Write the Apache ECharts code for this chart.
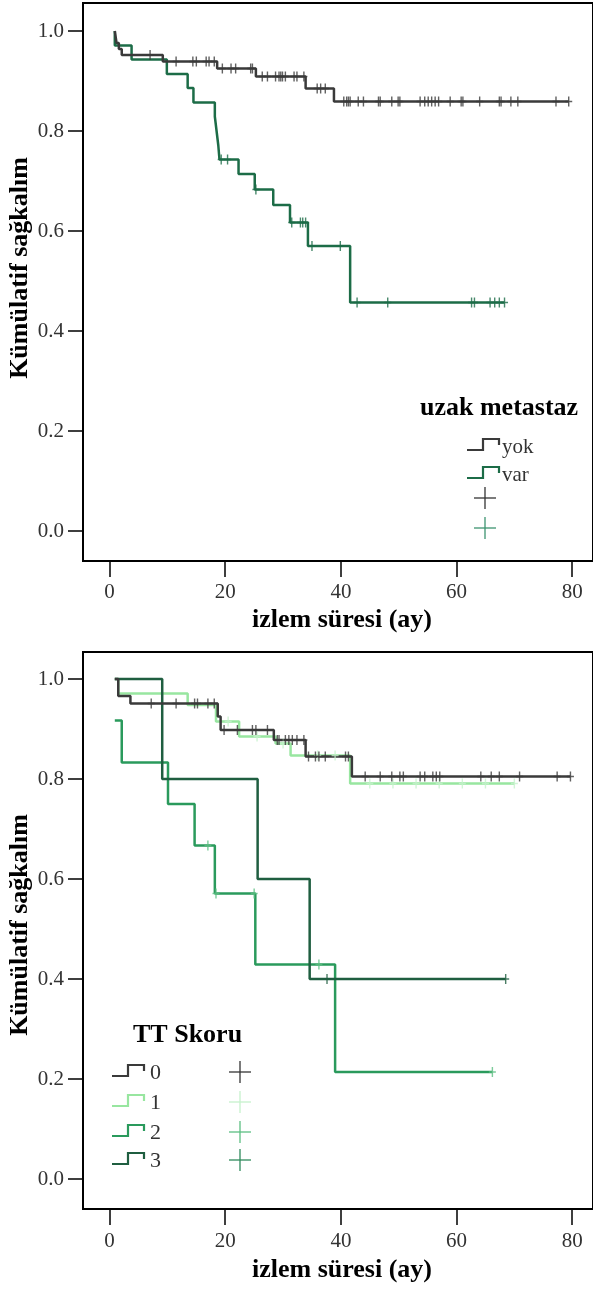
<!DOCTYPE html>
<html><head><meta charset="utf-8">
<style>html,body{margin:0;padding:0;background:#fff}#c{width:593px;height:1289px}</style>
<script src="https://cdn.jsdelivr.net/npm/echarts@6.0.0/dist/echarts.min.js"></script>
</head><body><div id="c"></div>
<script>
// ---------- data: top chart (uzak metastaz) ----------
const xTicks = [0, 20, 40, 60, 80];
const yTicks = [0, 0.2, 0.4, 0.6, 0.8, 1.0];

const yokTimes = [0.9, 1.2, 1.6, 2.1, 9.2, 18.6, 25.3, 33.9, 38.8, 79.4];
const yokSurv  = [1.0, 0.976, 0.964, 0.952, 0.939, 0.925, 0.909, 0.885, 0.859, 0.859];
const yokCensor = [7.0, 11.5, 14.4, 15.0, 16.7, 17.2, 18.1, 19.5, 21.0, 21.8, 24.4, 24.7, 26.4, 27.3, 28.7, 29.3, 29.6, 29.9, 30.4, 31.9, 32.4, 33.6, 35.9, 36.5, 37.3, 40.5, 41.0, 41.3, 41.6, 43.0, 43.9, 46.5, 46.8, 48.8, 49.9, 50.2, 53.7, 54.5, 55.1, 55.7, 56.3, 56.9, 58.9, 60.8, 61.1, 64.0, 67.4, 67.7, 69.4, 70.6, 77.2, 79.4];

const varTimes = [0.9, 0.9, 3.8, 9.9, 13.5, 14.5, 18.2, 18.5, 18.8, 19.0, 22.3, 25.1, 28.3, 31.2, 34.3, 41.6, 68.3];
const varSurv  = [1.0, 0.971, 0.943, 0.914, 0.886, 0.857, 0.829, 0.80, 0.771, 0.743, 0.714, 0.683, 0.652, 0.617, 0.570, 0.457, 0.457];
const varCensor = [19.3, 20.4, 25.3, 31.5, 33.0, 33.4, 33.9, 35.0, 39.9, 42.8, 48.1, 62.6, 63.1, 65.8, 66.6, 67.4, 68.3];

// ---------- data: bottom chart (TT Skoru) ----------
const g0Times = [0.9, 1.5, 3.6, 18.7, 19.2, 28.4, 33.9, 41.9, 79.7];
const g0Surv  = [1.0, 0.966, 0.951, 0.925, 0.898, 0.878, 0.845, 0.805, 0.805];
const g0Censor = [7.2, 11.5, 14.7, 15.2, 17.0, 18.1, 19.8, 22.1, 24.7, 25.3, 27.3, 29.0, 29.3, 30.4, 31.0, 31.6, 32.4, 33.6, 34.4, 35.6, 36.2, 37.3, 40.8, 41.3, 44.2, 46.8, 48.8, 50.2, 50.8, 53.7, 54.5, 55.9, 56.5, 57.1, 64.2, 66.0, 67.4, 70.9, 77.4, 79.7];

const g1Times = [0.9, 1.5, 13.5, 18.4, 22.4, 28.7, 31.3, 41.6, 70.0];
const g1Surv  = [1.0, 0.971, 0.948, 0.915, 0.885, 0.871, 0.847, 0.791, 0.791];
const g1Censor = [20.5, 25.5, 30.0, 36.0, 39.0, 45.0, 49.0, 53.0, 57.0, 61.0, 65.0, 70.0];

const g2Times = [0.9, 2.1, 10.1, 14.7, 18.2, 25.2, 39.0, 66.2];
const g2Surv  = [0.917, 0.833, 0.750, 0.667, 0.571, 0.429, 0.214, 0.214];
const g2Censor = [17.0, 18.4, 25.0, 36.2, 66.2];

const g3Times = [0.9, 9.1, 25.6, 34.6, 68.5];
const g3Surv  = [1.0, 0.80, 0.60, 0.40, 0.40];
const g3Censor = [37.6, 68.5];

const topLegendTitle = 'uzak metastaz';
const topLegendNames = ['yok', 'var'];
const botLegendTitle = 'TT Skoru';
const botLegendNames = ['0', '1', '2', '3'];
const xTitle = 'izlem süresi (ay)';
const yTitle = 'Kümülatif sağkalım';

// ---------- styles ----------
const C_YOK = '#3a3a3a', C_VAR = '#1c6c47';
const C_G0 = '#3a3a3a', C_G1 = '#98e6a0', C_G2 = '#2a9a5c', C_G3 = '#1f5e40';
const C_P1 = '#c6f2cc', C_P2 = '#5cbf82', C_P3 = '#2f8a5c', C_PVAR = '#3d9470';
const SERIF = '"Liberation Serif", "Times New Roman", serif';

function steps(times, surv) { return times.map((t, i) => [t, surv[i]]); }
function censorPts(times, surv, cens) {
  return cens.map(c => {
    let v = surv[0];
    for (let i = 0; i < times.length; i++) { if (times[i] <= c) v = surv[i]; }
    return [c, v];
  });
}
const PLUS = 'path://M4.2,0H5.8V10H4.2Z M1,4.3H9V5.7H1Z';

function lineSeries(idx, data, color, z) {
  return { type: 'line', xAxisIndex: idx, yAxisIndex: idx, data: data, step: 'end',
    showSymbol: false, symbol: 'none', z: z || 2, silent: true, animation: false,
    lineStyle: { color: color, width: 2.5 } };
}
function censorSeries(idx, data, color, z) {
  return { type: 'scatter', xAxisIndex: idx, yAxisIndex: idx, data: data, symbol: PLUS,
    symbolSize: [7, 10], itemStyle: { color: color }, z: z || 3, silent: true, animation: false };
}

function xAxisCfg(idx, margin) {
  return { gridIndex: idx, type: 'value', min: -4.6, max: 83.6, position: 'bottom',
    splitLine: { show: false }, axisLine: { show: false, onZero: false },
    axisTick: { show: true, customValues: xTicks, length: 16, lineStyle: { color: '#000', width: 1.5 } },
    axisLabel: { customValues: xTicks, margin: margin, fontFamily: SERIF, fontSize: 21, color: '#333' } };
}
function yAxisCfg(idx, min, max) {
  return { gridIndex: idx, type: 'value', min: min, max: max, position: 'left',
    splitLine: { show: false }, axisLine: { show: false, onZero: false },
    axisTick: { show: true, customValues: yTicks, length: 15, lineStyle: { color: '#000', width: 1.5 } },
    axisLabel: { customValues: yTicks, margin: 19, fontFamily: SERIF, fontSize: 21, color: '#333',
      formatter: v => v.toFixed(1) } };
}

function stepIcon(x, y, color) {
  return { type: 'polyline', silent: true,
    shape: { points: [[x, y + 5], [x + 16, y + 5], [x + 16, y - 6], [x + 32, y - 6], [x + 32, y]] },
    style: { stroke: color, lineWidth: 2.2, fill: null } };
}
function plusIcon(cx, cy, color) {
  return { type: 'group', silent: true, children: [
    { type: 'line', shape: { x1: cx - 11, y1: cy, x2: cx + 11, y2: cy }, style: { stroke: color, lineWidth: 1.3 } },
    { type: 'line', shape: { x1: cx, y1: cy - 11, x2: cx, y2: cy + 11 }, style: { stroke: color, lineWidth: 1.3 } }
  ] };
}
function txt(x, y, text, size, bold, align, color, rot) {
  const o = { type: 'text', x: x, y: y, silent: true,
    style: { text: text, font: (bold ? 'bold ' : '') + size + 'px ' + SERIF,
      fill: color || '#000', align: align || 'left', verticalAlign: 'middle' } };
  if (rot) o.rotation = rot;
  return o;
}

const chart = echarts.init(document.getElementById('c'), null, { renderer: 'canvas' });

const graphics = [
  // axis titles
  txt(342, 620, xTitle, 26, true, 'center'),
  txt(342, 1270, xTitle, 26, true, 'center'),
  txt(20, 268, yTitle, 26, true, 'center', '#000', Math.PI / 2),
  txt(20, 925, yTitle, 26, true, 'center', '#000', Math.PI / 2),
  // top legend
  txt(420, 408, topLegendTitle, 26, true, 'left'),
  stepIcon(467, 445, C_YOK), txt(502, 447, topLegendNames[0], 21, false, 'left', '#333'),
  stepIcon(467, 473, C_VAR), txt(502, 475, topLegendNames[1], 21, false, 'left', '#333'),
  plusIcon(485, 498, '#333'),
  plusIcon(485, 528, C_PVAR),
  // bottom legend
  txt(133, 1035, botLegendTitle, 26, true, 'left'),
  stepIcon(112, 1071, C_G0), txt(150, 1073, botLegendNames[0], 22, false, 'left', '#333'), plusIcon(240, 1072, '#333'),
  stepIcon(112, 1101, C_G1), txt(150, 1103, botLegendNames[1], 22, false, 'left', '#333'), plusIcon(240, 1102, C_P1),
  stepIcon(112, 1131, C_G2), txt(150, 1133, botLegendNames[2], 22, false, 'left', '#333'), plusIcon(240, 1132, C_P2),
  stepIcon(112, 1159, C_G3), txt(150, 1161, botLegendNames[3], 22, false, 'left', '#333'), plusIcon(240, 1160, C_P3)
];

chart.setOption({
  animation: false,
  backgroundColor: '#fff',
  grid: [
    { left: 83, top: 3, width: 513, height: 558, show: true, borderColor: '#000', borderWidth: 2, backgroundColor: 'transparent' },
    { left: 83, top: 652, width: 513, height: 557, show: true, borderColor: '#000', borderWidth: 2, backgroundColor: 'transparent' }
  ],
  xAxis: [xAxisCfg(0, 21), xAxisCfg(1, 22)],
  yAxis: [yAxisCfg(0, -0.06, 1.056), yAxisCfg(1, -0.06, 1.054)],
  series: [
    lineSeries(0, steps(varTimes, varSurv), C_VAR, 2),
    lineSeries(0, steps(yokTimes, yokSurv), C_YOK, 3),
    censorSeries(0, censorPts(varTimes, varSurv, varCensor), C_VAR, 4),
    censorSeries(0, censorPts(yokTimes, yokSurv, yokCensor), C_YOK, 4),

    lineSeries(1, steps(g1Times, g1Surv), C_G1, 2),
    lineSeries(1, steps(g2Times, g2Surv), C_G2, 2),
    lineSeries(1, steps(g3Times, g3Surv), C_G3, 3),
    lineSeries(1, steps(g0Times, g0Surv), C_G0, 3),
    censorSeries(1, censorPts(g1Times, g1Surv, g1Censor), C_P1, 4),
    censorSeries(1, censorPts(g2Times, g2Surv, g2Censor), C_P2, 4),
    censorSeries(1, censorPts(g3Times, g3Surv, g3Censor), C_G3, 4),
    censorSeries(1, censorPts(g0Times, g0Surv, g0Censor), C_G0, 4)
  ],
  graphic: graphics
});
</script>
</body></html>
